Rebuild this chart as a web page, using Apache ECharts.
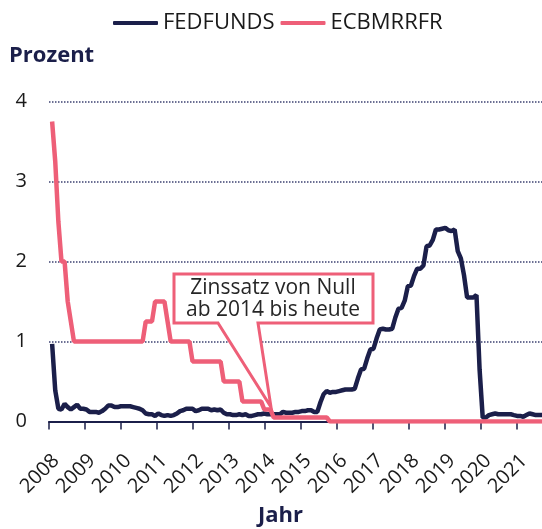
<!DOCTYPE html>
<html>
<head>
<meta charset="utf-8">
<script src="https://cdn.jsdelivr.net/npm/echarts@6/dist/echarts.min.js"></script>
<style>
  html, body { margin: 0; padding: 0; background: #fff; }
  #chart { width: 542px; height: 529px; }
</style>
</head>
<body>
<div id="chart"></div>
<script>
// Monatswerte ab 2008-10 bis 2021-11
const fedfunds = [
  0.97, 0.39, 0.16,
  0.15, 0.22, 0.18, 0.15, 0.18, 0.21, 0.16, 0.16, 0.15, 0.12, 0.12, 0.12,
  0.11, 0.13, 0.16, 0.20, 0.20, 0.18, 0.18, 0.19, 0.19, 0.19, 0.19, 0.18,
  0.17, 0.16, 0.14, 0.10, 0.09, 0.09, 0.07, 0.10, 0.08, 0.07, 0.08, 0.07,
  0.08, 0.10, 0.13, 0.14, 0.16, 0.16, 0.16, 0.13, 0.14, 0.16, 0.16, 0.16,
  0.14, 0.15, 0.14, 0.15, 0.11, 0.09, 0.09, 0.08, 0.08, 0.09, 0.08, 0.09,
  0.07, 0.07, 0.08, 0.09, 0.09, 0.10, 0.09, 0.09, 0.09, 0.09, 0.09, 0.12,
  0.11, 0.11, 0.11, 0.12, 0.12, 0.13, 0.13, 0.14, 0.14, 0.12, 0.12, 0.24,
  0.34, 0.38, 0.36, 0.37, 0.37, 0.38, 0.39, 0.40, 0.40, 0.40, 0.41, 0.54,
  0.65, 0.66, 0.79, 0.90, 0.91, 1.04, 1.15, 1.16, 1.15, 1.15, 1.16, 1.30,
  1.41, 1.42, 1.51, 1.69, 1.70, 1.82, 1.91, 1.91, 1.95, 2.19, 2.20, 2.27,
  2.40, 2.40, 2.41, 2.42, 2.39, 2.38, 2.40, 2.13, 2.04, 1.83, 1.55, 1.55,
  1.55, 1.58, 0.65, 0.05, 0.05, 0.08, 0.09, 0.10, 0.09, 0.09, 0.09, 0.09,
  0.09, 0.08, 0.07, 0.07, 0.06, 0.08, 0.10, 0.09, 0.08, 0.08, 0.08
]
const ecbmrrfr = [
  3.75, 3.25, 2.50,
  2.00, 2.00, 1.50, 1.25, 1.00, 1.00, 1.00, 1.00, 1.00, 1.00, 1.00, 1.00,
  1.00, 1.00, 1.00, 1.00, 1.00, 1.00, 1.00, 1.00, 1.00, 1.00, 1.00, 1.00,
  1.00, 1.00, 1.00, 1.25, 1.25, 1.25, 1.50, 1.50, 1.50, 1.50, 1.25, 1.00,
  1.00, 1.00, 1.00, 1.00, 1.00, 1.00, 0.75, 0.75, 0.75, 0.75, 0.75, 0.75,
  0.75, 0.75, 0.75, 0.75, 0.50, 0.50, 0.50, 0.50, 0.50, 0.50, 0.25, 0.25,
  0.25, 0.25, 0.25, 0.25, 0.25, 0.15, 0.15, 0.15, 0.05, 0.05, 0.05, 0.05,
  0.05, 0.05, 0.05, 0.05, 0.05, 0.05, 0.05, 0.05, 0.05, 0.05, 0.05, 0.05,
  0.05, 0.05, 0, 0, 0, 0, 0, 0, 0, 0, 0, 0,
  0, 0, 0, 0, 0, 0, 0, 0, 0, 0, 0, 0,
  0, 0, 0, 0, 0, 0, 0, 0, 0, 0, 0, 0,
  0, 0, 0, 0, 0, 0, 0, 0, 0, 0, 0, 0,
  0, 0, 0, 0, 0, 0, 0, 0, 0, 0, 0, 0,
  0, 0, 0, 0, 0, 0, 0, 0, 0, 0, 0
]
const yearLabels = ['2008', '2009', '2010', '2011', '2012', '2013', '2014',
  '2015', '2016', '2017', '2018', '2019', '2020', '2021']
const yTicks = [0, 1, 2, 3, 4]
const legendNames = ['FEDFUNDS', 'ECBMRRFR']

const navy = '#1b1f4a'
const pink = '#ee5f78'
const font = 'Open Sans'
const tickStep = 11.537 // Monate pro Jahresmarke (wie im Original)

const chart = echarts.init(document.getElementById('chart'))

const option = {
  animation: false,
  textStyle: { fontFamily: font },
  title: [
    {
      text: 'Prozent',
      left: 9,
      top: 45,
      padding: 0,
      textStyle: { fontSize: 22, fontWeight: 'bold', color: navy, fontFamily: font }
    },
    {
      text: 'Jahr',
      left: 258,
      top: 505,
      padding: 0,
      textStyle: { fontSize: 22, fontWeight: 'bold', color: navy, fontFamily: font }
    }
  ],
  legend: {
    data: legendNames,
    left: 113,
    top: 12,
    padding: 0,
    icon: 'roundRect',
    itemWidth: 45,
    itemHeight: 4,
    itemGap: 6,
    textStyle: { fontSize: 22, color: '#1a1a1a', fontFamily: font }
  },
  grid: {
    left: 49,
    right: 0,
    top: 101.5,
    bottom: 107.5,
    containLabel: false
  },
  xAxis: {
    type: 'value',
    min: -1,
    max: 157,
    interval: tickStep,
    axisLine: { show: true, lineStyle: { color: navy, width: 2 } },
    axisTick: { show: true, length: 8, lineStyle: { color: navy, width: 1.5 } },
    splitLine: { show: false },
    axisLabel: {
      rotate: 45,
      margin: 29,
      verticalAlign: 'top',
      fontSize: 20,
      color: '#1a1a1a',
      fontFamily: font,
      showMaxLabel: false,
      formatter: v => yearLabels[Math.round((v + 1) / tickStep)] || ''
    }
  },
  yAxis: {
    type: 'value',
    min: yTicks[0],
    max: yTicks[yTicks.length - 1],
    interval: 1,
    axisLine: { show: false },
    axisTick: { show: false },
    axisLabel: { margin: 22, fontSize: 20, color: '#1a1a1a', fontFamily: font },
    splitLine: {
      show: true,
      lineStyle: { color: '#3d4272', width: 1.5, type: [1.5, 1.5] }
    }
  },
  series: [
    {
      name: legendNames[0],
      type: 'line',
      showSymbol: false,
      color: navy,
      lineStyle: { width: 4.5, color: navy },
      data: fedfunds.map((v, i) => [i, v])
    },
    {
      name: legendNames[1],
      type: 'line',
      showSymbol: false,
      color: pink,
      lineStyle: { width: 4.5, color: pink },
      data: ecbmrrfr.map((v, i) => [i, v])
    }
  ],
  graphic: [
    {
      type: 'polygon',
      z: 100,
      shape: {
        points: [[174, 274], [373, 274], [373, 323], [258, 323], [271, 407], [218, 323], [174, 323]]
      },
      style: { fill: '#fff', stroke: pink, lineWidth: 3 }
    },
    {
      type: 'text',
      z: 101,
      x: 273,
      y: 299,
      style: {
        text: 'Zinssatz von Null\nab 2014 bis heute',
        fill: '#262626',
        font: '21px "Open Sans"',
        lineHeight: 22,
        align: 'center',
        verticalAlign: 'middle'
      }
    }
  ]
}

chart.setOption(option)
</script>
</body>
</html>
